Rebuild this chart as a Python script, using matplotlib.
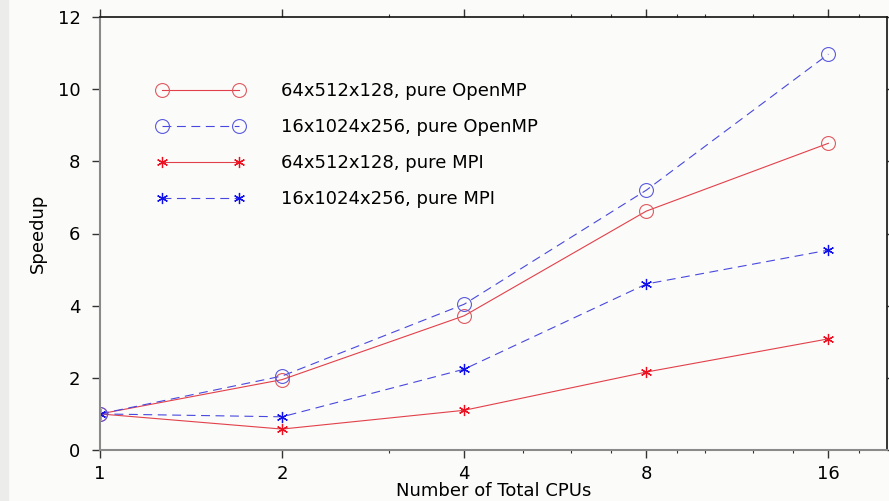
import matplotlib
matplotlib.use("Agg")
import matplotlib.pyplot as plt
from matplotlib.ticker import FixedLocator, NullFormatter

plt.rcParams['font.family'] = ['DejaVu Sans']

cpus = [1, 2, 4, 8, 16]
omp_small = [1.0, 1.95, 3.72, 6.62, 8.50]
omp_large = [1.0, 2.05, 4.04, 7.20, 10.97]
mpi_small = [1.0, 0.58, 1.10, 2.16, 3.08]
mpi_large = [1.0, 0.92, 2.24, 4.60, 5.54]
labels = ["64x512x128, pure OpenMP", "16x1024x256, pure OpenMP",
          "64x512x128, pure MPI", "16x1024x256, pure MPI"]
minor_x = [3, 5, 6, 7, 9, 10, 12, 14, 18]

red = '#e2404a'
blue = '#4848e0'

fig = plt.figure(figsize=(8.89, 5.01), dpi=100, facecolor='#fbfbf9')
# gray strip on the left edge
fig.patches.append(plt.Rectangle((0, 0), 8 / 889, 1, transform=fig.transFigure,
                                 color='#ececea', zorder=0))
ax = fig.add_axes([100 / 889, 51 / 501, 787 / 889, 433 / 501])
ax.set_facecolor('#fbfbf9')

ax.plot(cpus, omp_small, color=red, lw=0.8, marker='o', ms=10, mfc='none',
        mec='#e05a60', mew=0.8, label=labels[0])
ax.plot(cpus, omp_large, color=blue, lw=0.8, ls=(0, (8, 5)), marker='o', ms=10,
        mfc='none', mec='#5a5ae0', mew=0.8, label=labels[1])
ax.plot(cpus, mpi_small, color=red, lw=0.8, marker=(6, 2, 0), ms=8,
        mec='#ee1020', mew=0.9, label=labels[2])
ax.plot(cpus, mpi_large, color=blue, lw=0.8, ls=(0, (8, 5)), marker=(6, 2, 0),
        ms=8, mec='#1010ee', mew=0.9, label=labels[3])

ax.set_xscale('log', base=2)
ax.set_xlim(1, 20)
ax.set_ylim(0, 12)
ax.set_xticks(cpus)
ax.set_xticklabels([str(c) for c in cpus])
ax.xaxis.set_minor_locator(FixedLocator(minor_x))
ax.xaxis.set_minor_formatter(NullFormatter())
ax.set_yticks(range(0, 13, 2))

ax.tick_params(axis='both', which='major', labelsize=13, length=6, width=1,
               direction='out', top=True, right=True, color='#333333')
ax.tick_params(axis='x', which='minor', length=2.5, width=0.8, direction='out',
               top=True, color='#333333')
ax.tick_params(axis='y', which='major', right=True, labelright=False)
ax.tick_params(axis='y', which='major', pad=8)
ax.tick_params(axis='x', which='major', pad=5)

for s in ['left', 'bottom']:
    ax.spines[s].set_color('#8a8a8a')
    ax.spines[s].set_linewidth(1.5)
for s in ['top', 'right']:
    ax.spines[s].set_color('#111111')
    ax.spines[s].set_linewidth(1.2)

ax.set_ylabel("Speedup", fontsize=13, labelpad=8)
ax.set_xlabel("Number of Total CPUs", fontsize=13, labelpad=-1)

ax.legend(loc='upper left', bbox_to_anchor=(49 / 787, 1 - 58 / 433),
          frameon=False, fontsize=13, numpoints=2, handlelength=4.9,
          handletextpad=2.0, labelspacing=1.0, borderaxespad=0)

fig.savefig("out.png", dpi=100, facecolor=fig.get_facecolor())
